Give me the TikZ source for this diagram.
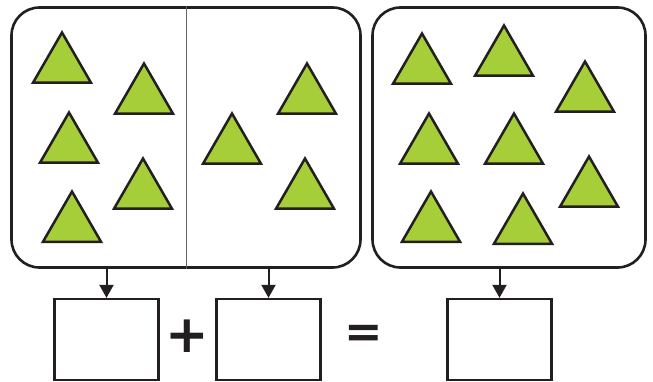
\documentclass[tikz,border=0pt]{standalone}
\usepackage{fontspec}
\newfontfamily\opfont{DejaVu Sans}
\usetikzlibrary{shapes.geometric,arrows.meta}
\definecolor{leaf}{RGB}{166,206,57}
\definecolor{ink}{RGB}{35,31,32}

\begin{document}
\begin{tikzpicture}[x=1pt,y=-1pt]
    \tikzstyle{tri} = [regular polygon,regular polygon sides=3,minimum size=67pt,
        inner sep=0pt,anchor=corner 1,draw=ink,line width=2.5pt,fill=leaf]
    \tikzstyle{panel} = [draw=ink,line width=2.6pt,rounded corners=28pt,minimum height=260pt]
    \tikzstyle{answer} = [draw=ink,line width=2.3pt,minimum width=104pt,minimum height=81pt]
    \tikzstyle{op} = [inner sep=0pt,text=ink,font=\opfont\bfseries]
    \tikzstyle{feed} = [draw=ink,line width=2pt,-{Triangle[width=14pt,length=13pt]}]

    \useasboundingbox (0,0) rectangle (653,382);

    % the two groups and the total
    \node[panel,minimum width=349pt] (parts) at (186,137.5) {};
    \node[panel,minimum width=273pt] (total) at (509,137.5) {};
    \draw[ink!70,line width=0.8pt] (parts.north) -- (parts.south);

    % triangles, apex positions
    \foreach \x/\y [count=\i] in {62/30,144/61,69/110,143/156,72/189,
        232/111,307/61,305/156}
        \node[tri] (a\i) at (\x,\y) {};
    \foreach \x/\y [count=\i] in {422/31,504/23,585/59,429/111,514/111,
        589/154,431/189,523/191}
        \node[tri] (b\i) at (\x,\y) {};

    % boxes to fill in
    \node[answer] (left) at (106.5,339.5) {};
    \node[answer] (right) at (268.5,339.5) {};
    \node[answer] (sum) at (499.5,339.5) {};
    \node[op,font=\opfont\bfseries\fontsize{52}{52}\selectfont] (plus) at (187.5,336.5) {+};
    \node[op,font=\opfont\bfseries\fontsize{46}{46}\selectfont] (equals) at (363.5,336.5) {=};

    \draw[feed] (left.north |- parts.south) -- (left.north);
    \draw[feed] (right.north |- parts.south) -- (right.north);
    \draw[feed] (sum.north |- total.south) -- (sum.north);
\end{tikzpicture}
\end{document}
